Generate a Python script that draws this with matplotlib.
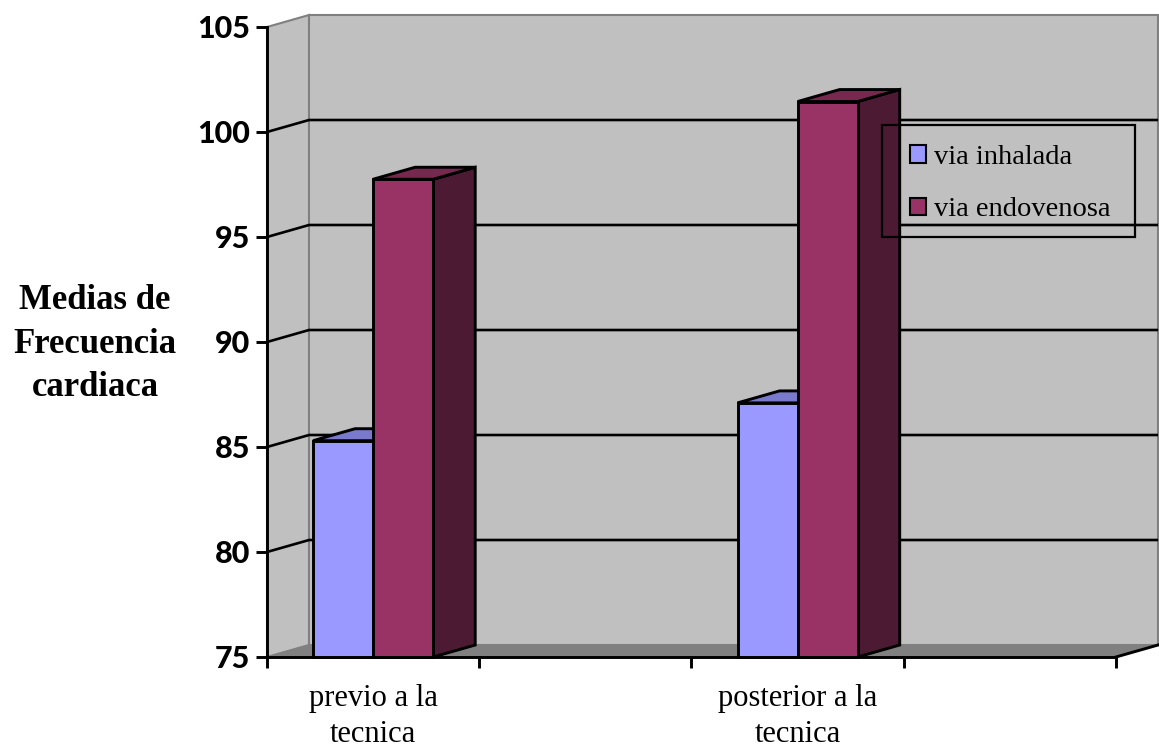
import matplotlib.pyplot as plt
from matplotlib.patches import Polygon, Patch, Rectangle

# Mean heart rate before / after the technique, by route
categorias = ["previo a la\ntecnica", "posterior a la\ntecnica"]
series = ["via inhalada", "via endovenosa"]
inhalada = [85.3, 87.1]
endovenosa = [97.75, 101.45]
yticks = [75, 80, 85, 90, 95, 100, 105]

front = {"via inhalada": "#9999FF", "via endovenosa": "#993366"}
top = {"via inhalada": "#7A7ACC", "via endovenosa": "#77284F"}
side = {"via inhalada": "#4D4D80", "via endovenosa": "#4D1A33"}

ymin, ymax = 75, 105
nslots = 4          # two labelled categories, each followed by an empty slot
dx, dy = 0.198, 0.571   # depth offset of the 3D box in data units
barw = 0.283

fig = plt.figure(figsize=(11.59, 7.48), dpi=100)
ax = fig.add_axes([267 / 1159, 91 / 748, 891 / 1159, 642 / 748])
ax.set_xlim(0, nslots + dx)
ax.set_ylim(ymin, ymax + dy)
ax.patch.set_visible(False)

wall = "#C0C0C0"
edge = "#808080"

# side wall, back wall and floor
ax.add_patch(Polygon([(0, ymin), (dx, ymin + dy), (dx, ymax + dy), (0, ymax)],
                     facecolor=wall, edgecolor=edge, lw=1.5, zorder=0, clip_on=False))
ax.add_patch(Polygon([(dx, ymin + dy), (nslots + dx, ymin + dy), (nslots + dx, ymax + dy), (dx, ymax + dy)],
                     facecolor=wall, edgecolor=edge, lw=1.5, zorder=0, clip_on=False))
ax.add_patch(Polygon([(0, ymin), (nslots, ymin), (nslots + dx, ymin + dy), (dx, ymin + dy)],
                     facecolor=edge, edgecolor=edge, lw=1.0, zorder=1, clip_on=False))

# gridlines across side and back walls
for v in yticks[1:-1]:
    ax.plot([0, dx, nslots + dx], [v, v + dy, v + dy], color="black", lw=1.9, zorder=2,
            solid_capstyle="butt", clip_on=False)


def bar3d(x0, h, name):
    kw = dict(edgecolor="black", lw=2.1, joinstyle="miter", zorder=3, clip_on=False)
    ax.add_patch(Polygon([(x0 + barw, ymin), (x0 + barw + dx, ymin + dy),
                          (x0 + barw + dx, h + dy), (x0 + barw, h)], facecolor=side[name], **kw))
    ax.add_patch(Polygon([(x0, h), (x0 + barw, h), (x0 + barw + dx, h + dy), (x0 + dx, h + dy)],
                         facecolor=top[name], **kw))
    ax.add_patch(Polygon([(x0, ymin), (x0 + barw, ymin), (x0 + barw, h), (x0, h)],
                         facecolor=front[name], **kw))


for i in range(len(categorias)):
    c = 2 * i + 0.5
    bar3d(c - barw, inhalada[i], "via inhalada")
    bar3d(c, endovenosa[i], "via endovenosa")

# floor right edge
ax.plot([nslots, nslots + dx], [ymin, ymin + dy], color="black", lw=2.1, zorder=4, clip_on=False)

# axes
for s in ["top", "right"]:
    ax.spines[s].set_visible(False)
ax.spines["left"].set_bounds(ymin, ymax)
ax.spines["bottom"].set_bounds(0, nslots)
for s in ["left", "bottom"]:
    ax.spines[s].set_linewidth(2.1)
    ax.spines[s].set_zorder(5)

ax.set_yticks(yticks)
ax.set_yticklabels([str(v) for v in yticks], fontfamily="Lato", fontweight="black", fontsize=22)
ax.tick_params(axis="y", length=8, width=2.1, pad=4)

ax.set_xticks(range(nslots + 1))
ax.set_xticklabels([])
ax.tick_params(axis="x", which="major", length=8, width=2.1)
ax.set_xticks([0.5, 2.5], minor=True)
ax.set_xticklabels(categorias, minor=True, fontfamily="Liberation Serif", fontsize=22,
                   linespacing=1.3)
ax.tick_params(axis="x", which="minor", length=0, pad=19.5)

fig.text(95 / 1159, 1 - 344 / 748, "Medias de\nFrecuencia\ncardiaca", ha="center", va="center",
         fontfamily="Liberation Serif", fontweight="bold", fontsize=25, linespacing=1.42)

# legend: entries without frame, box drawn separately
handles = [Patch(facecolor=front[s], edgecolor="black", lw=1.5, label=s) for s in series]
leg = ax.legend(handles=handles, loc="upper left",
                bbox_to_anchor=(910 / 1159, 1 - 145 / 748),
                bbox_transform=fig.transFigure, borderaxespad=0, borderpad=0,
                prop={"family": "Liberation Serif", "size": 20.5},
                handlelength=0.56, handleheight=0.56, handletextpad=0.3,
                labelspacing=0.96, frameon=False)
leg.set_zorder(6)
fig.add_artist(Rectangle((882 / 1159, 1 - 237 / 748), 253 / 1159, 112 / 748,
                         transform=fig.transFigure, facecolor="none", edgecolor="black",
                         lw=1.6, zorder=6))

fig.savefig("out.png", dpi=100)
